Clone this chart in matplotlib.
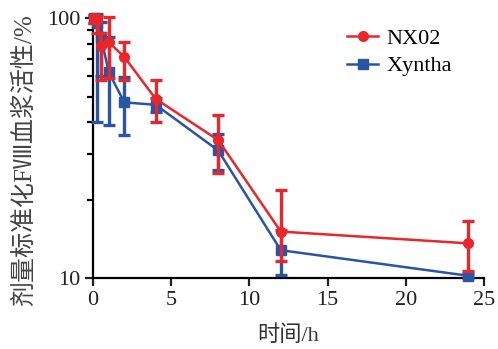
import matplotlib
matplotlib.use("Agg")
import matplotlib.pyplot as plt
from matplotlib.ticker import NullFormatter, FixedLocator
from matplotlib.lines import Line2D

plt.rcParams['font.family'] = ['Liberation Serif', 'Noto Sans CJK SC', 'DejaVu Sans']

time_h = [0.083, 0.25, 0.5, 1, 2, 4, 8, 12, 24]
nx02 = [100, 98, 78, 81, 71, 49, 34, 15.1, 13.6]
nx02_err_lo = [4, 10, 20, 22, 13, 9, 8.5, 3.5, 3.0]
nx02_err_hi = [3, 4, 10, 20, 10, 9, 8.5, 6.7, 3.0]
xyntha = [100, 96, 85, 62, 47.5, 46.5, 31, 12.8, 10.2]
xyntha_err_lo = [4, 56, 25, 23, 12, 3, 5, 2.5, 0.2]
xyntha_err_hi = [3, 8, 12, 23, 12, 3, 5, 2.5, 0.2]

series_names = ["NX02", "Xyntha"]
xticks = [0, 5, 10, 15, 20, 25]
yticks = [10, 100]
xlabel = "时间/h"
ylabel = "剂量标准化FⅧ血浆活性/%"

red = "#E8262B"
blue = "#2A55A5"

fig = plt.figure(figsize=(4.98, 3.49), dpi=100)
ax = fig.add_axes([0.187, 0.2034, 0.785, 0.7594])

ax.errorbar(time_h, xyntha, yerr=[xyntha_err_lo, xyntha_err_hi], color=blue,
            marker='s', markersize=7, linewidth=1.8, elinewidth=2.4,
            capsize=4, capthick=2.4, clip_on=False, zorder=3)
ax.errorbar(time_h, nx02, yerr=[nx02_err_lo, nx02_err_hi], color=red,
            marker='o', markersize=7, linewidth=1.8, elinewidth=2.4,
            capsize=4, capthick=2.4, clip_on=False, zorder=4)

ax.set_yscale('log')
ax.set_xlim(0, 25)
ax.set_ylim(10, 105)
ax.spines['top'].set_visible(False)
ax.spines['right'].set_visible(False)
ax.spines['left'].set_bounds(10, 100)
ax.spines['left'].set_linewidth(1.6)
ax.spines['bottom'].set_linewidth(1.6)

ax.set_xticks(xticks)
ax.set_xticklabels([str(v) for v in xticks])
ax.yaxis.set_major_locator(FixedLocator(yticks))
ax.set_yticklabels([str(v) for v in yticks])
ax.yaxis.set_minor_locator(FixedLocator([20, 30, 40, 50, 60, 70, 80, 90]))
ax.yaxis.set_minor_formatter(NullFormatter())
ax.tick_params(axis='both', which='major', direction='out', length=6, width=1.6,
               labelsize=16, pad=3, colors='#222222')
ax.tick_params(axis='y', which='minor', direction='out', length=4, width=1.6)

ax.set_xlabel(xlabel, fontsize=16, color='#333333')
ax.xaxis.set_label_coords(0.5, -0.18)
ax.set_ylabel(ylabel, fontsize=18, color='#444444')
ax.yaxis.set_label_coords(-0.145, 0.445)

handles = [Line2D([], [], color=red, marker='o', markersize=7, linewidth=1.8),
           Line2D([], [], color=blue, marker='s', markersize=7, linewidth=1.8)]
ax.legend(handles, series_names, loc='upper left', bbox_to_anchor=(0.61, 1.0),
          frameon=False, fontsize=16, handlelength=1.4, handletextpad=0.35,
          labelspacing=0.3, borderaxespad=0.3)

fig.savefig("out.png", dpi=100)
